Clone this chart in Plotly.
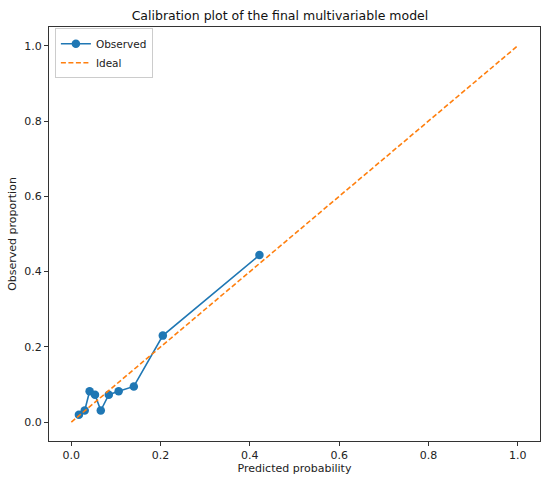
"""Calibration plot of the final multivariable model."""
import plotly.graph_objects as go

# observed calibration bins (mean predicted vs. observed proportion)
pred_prob = [0.017, 0.030, 0.041, 0.053, 0.066, 0.084, 0.106, 0.140, 0.205, 0.4215]
obs_prop = [0.020, 0.031, 0.082, 0.073, 0.031, 0.073, 0.082, 0.095, 0.230, 0.444]

ideal_x = [0.0, 1.0]
ideal_y = [0.0, 1.0]

tick_vals = [0.0, 0.2, 0.4, 0.6, 0.8, 1.0]
tick_text = ["0.0", "0.2", "0.4", "0.6", "0.8", "1.0"]

BLUE = "#1f77b4"
ORANGE = "#ff7f0e"
FONT = "DejaVu Sans"

fig = go.Figure()
fig.add_trace(go.Scatter(
    x=pred_prob, y=obs_prop, mode="lines+markers", name="Observed",
    line=dict(color=BLUE, width=1.6),
    marker=dict(color=BLUE, size=8.5),
))
fig.add_trace(go.Scatter(
    x=ideal_x, y=ideal_y, mode="lines", name="Ideal",
    line=dict(color=ORANGE, width=1.6, dash="5px,2.5px"),
))

axis_common = dict(
    range=[-0.05, 1.05],
    tickvals=tick_vals,
    ticktext=tick_text,
    showgrid=False,
    zeroline=False,
    showline=True,
    linecolor="#333",
    linewidth=1,
    mirror=True,
    ticks="outside",
    ticklen=4,
    tickcolor="#333",
    automargin=False,
    tickfont=dict(family=FONT, size=11, color="#222"),
)

fig.update_layout(
    width=550,
    height=484,
    paper_bgcolor="white",
    plot_bgcolor="white",
    margin=dict(l=49, r=10, t=27, b=43, autoexpand=False),
    title=dict(
        text="Calibration plot of the final multivariable model",
        xref="container", x=0.509, xanchor="center",
        yref="container", y=0.968, yanchor="middle",
        font=dict(family=FONT, size=12.5, color="#111"),
        automargin=False,
    ),
    xaxis=dict(axis_common, title=dict(text="Predicted probability", standoff=3,
                                       font=dict(family=FONT, size=11, color="#222"))),
    yaxis=dict(axis_common, title=dict(text="Observed proportion", standoff=5,
                                       font=dict(family=FONT, size=11, color="#222"))),
    legend=dict(
        x=0.012, y=0.997, xanchor="left", yanchor="top",
        bgcolor="rgba(255,255,255,0.8)",
        bordercolor="#ccc", borderwidth=1,
        font=dict(family=FONT, size=10.5, color="#222"),
        tracegroupgap=0,
        itemwidth=30,
    ),
    showlegend=True,
)

# page body has a default 8px margin; drop it so the figure sits at 0,0
fig.write_html(
    "out.html",
    config={"displayModeBar": False},
    post_script="document.body.style.margin = '0';",
)
